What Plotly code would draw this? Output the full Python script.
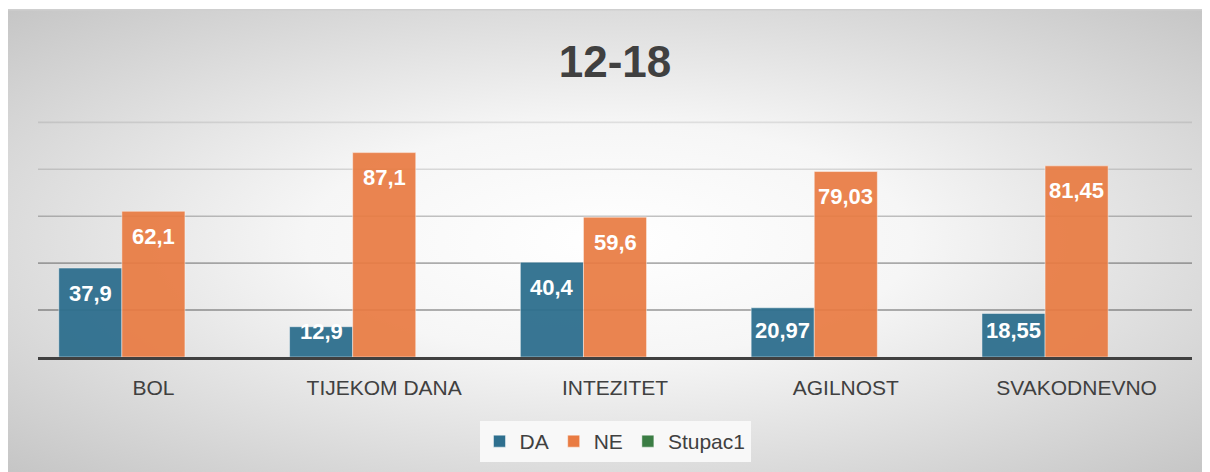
import base64
import plotly.graph_objects as go

categories = ["BOL", "TIJEKOM DANA", "INTEZITET", "AGILNOST", "SVAKODNEVNO"]
da_values = [37.9, 12.9, 40.4, 20.97, 18.55]
ne_values = [62.1, 87.1, 59.6, 79.03, 81.45]
stupac1_values = [None, None, None, None, None]
da_labels = ["37,9", "12,9", "40,4", "20,97", "18,55"]
ne_labels = ["62,1", "87,1", "59,6", "79,03", "81,45"]
grid_values = [20, 40, 60, 80, 100]
grid_alphas = [0.40, 0.31, 0.23, 0.13, 0.09]

# page body adds an 8px offset; figure fills the rest of the 1210x472 window
W, H = 1202, 464
ML, MR, MT, MB = 30, 18, 112, 115
pw = W - ML - MR
ph = H - MT - MB
YMAX = 101
BARGAP = 0.18
NSLOTS = 3

svg = (
    '<svg xmlns="http://www.w3.org/2000/svg" width="1202" height="463" '
    'preserveAspectRatio="none" viewBox="0 0 1202 463">'
    '<defs><radialGradient id="g" cx="0.5" cy="0.5" r="0.72" '
    'gradientUnits="objectBoundingBox">'
    '<stop offset="0" stop-color="#ffffff"/>'
    '<stop offset="0.35" stop-color="#f6f6f6"/>'
    '<stop offset="1" stop-color="#c4c4c4"/>'
    '</radialGradient></defs>'
    '<rect x="0" y="0" width="1202" height="463" fill="url(#g)"/>'
    '<rect x="0" y="0" width="1202" height="1.5" fill="#cfcfcf"/>'
    '</svg>'
)
src = "data:image/svg+xml;base64," + base64.b64encode(svg.encode()).decode()

font_family = "Liberation Sans, Arial, sans-serif"
bar_line = dict(color="rgba(255,255,255,0.45)", width=1)

fig = go.Figure()
fig.add_trace(go.Bar(name="DA", x=categories, y=da_values,
                     marker=dict(color="#2E6F8E", opacity=0.95, line=bar_line),
                     textposition="none"))
fig.add_trace(go.Bar(name="NE", x=categories, y=ne_values,
                     marker=dict(color="#E97B42", opacity=0.92, line=bar_line),
                     textposition="none"))
fig.add_trace(go.Bar(name="Stupac1", x=categories, y=stupac1_values,
                     marker=dict(color="#3B7D44", line=bar_line)))

# data labels placed inside the top of each bar (Excel "inside end")
slot_px = (pw / len(categories)) * (1 - BARGAP) / NSLOTS
annotations = []
for series_idx, (vals, labels) in enumerate([(da_values, da_labels), (ne_values, ne_labels)]):
    xshift = (series_idx - 1) * slot_px
    for cat, v, lab in zip(categories, vals, labels):
        bar_px = v / YMAX * ph
        d = min(18, bar_px - 33)
        annotations.append(dict(
            x=cat, y=v, xref="x", yref="y", text="<b>" + lab + "</b>",
            showarrow=False, xanchor="center", yanchor="middle",
            xshift=xshift, yshift=-(d + 7),
            font=dict(color="white", size=22, family=font_family),
        ))

# gridlines fading towards the top
shapes = [dict(type="line", xref="paper", yref="y", x0=0, x1=1, y0=g, y1=g,
               line=dict(color=f"rgba(0,0,0,{a})", width=1.6), layer="below")
          for g, a in zip(grid_values, grid_alphas)]

fig.update_layout(
    width=W, height=H,
    margin=dict(l=ML, r=MR, t=MT, b=MB, pad=0),
    paper_bgcolor="white", plot_bgcolor="rgba(0,0,0,0)",
    barmode="group", bargap=BARGAP, bargroupgap=0.0,
    font=dict(family=font_family, color="#404040"),
    title=dict(text="<b>12-18</b>", x=0.5, xref="paper", xanchor="center",
               y=1 - 53.5 / H, yref="container", yanchor="middle",
               font=dict(size=44, color="#404040", family=font_family)),
    xaxis=dict(showline=True, linecolor="#404040", linewidth=3,
               ticks="outside", ticklen=10, tickcolor="rgba(0,0,0,0)",
               tickfont=dict(size=21, color="#404040"), showgrid=False),
    yaxis=dict(range=[0, YMAX], showgrid=False,
               showticklabels=False, zeroline=False, showline=False),
    legend=dict(orientation="h", x=0.5, xanchor="center", xref="paper",
                y=1 - 433.5 / H, yref="container", yanchor="middle",
                bgcolor="#f8f8f8", font=dict(size=21, color="#404040"),
                itemwidth=30, traceorder="normal"),
    annotations=annotations,
    shapes=shapes,
    images=[dict(source=src, xref="paper", yref="paper",
                 x=(0 - ML) / pw, y=(H - MB - 1) / ph,
                 sizex=W / pw, sizey=(H - 1) / ph,
                 xanchor="left", yanchor="top", sizing="stretch",
                 layer="below")],
)

fig.write_html("out.html")
